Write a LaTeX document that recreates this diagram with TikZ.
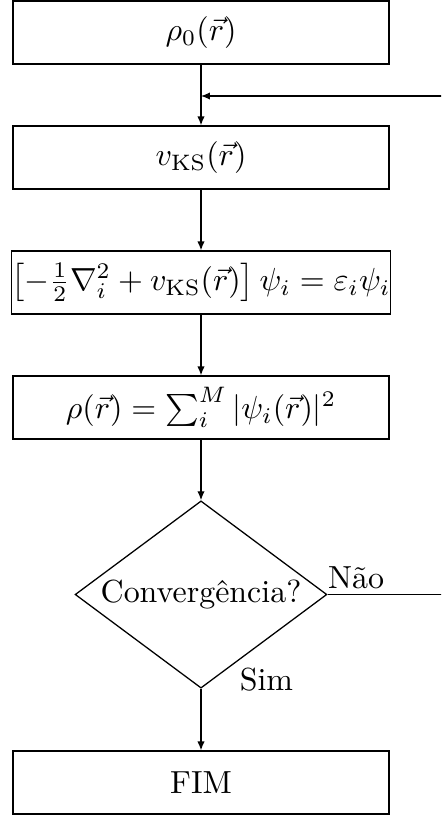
\documentclass[tikz,border=0pt]{standalone}
\usepackage{amsmath, amssymb}
\usepackage{fontspec}
\usetikzlibrary{shapes.geometric, arrows.meta}

\tikzset{
  stepbox/.style={draw, rectangle, minimum width=4.136cm, minimum height=0.693cm, inner sep=0pt},
  decision/.style={draw, diamond, aspect=1.35, inner sep=0pt, minimum width=2.77cm, minimum height=2.06cm},
  flow/.style={-{Latex[length=2.8pt,width=2.3pt]}},
}

\begin{document}
\begin{tikzpicture}[x=0.011cm, y=-0.011cm]
  \useasboundingbox (0,0) rectangle (441,816);
  \clip (0,0) rectangle (441,816);
  %--- boxes ---
  \node[stepbox] (rho0) at (201,32.5) {$\rho_0(\vec{r})$};
  \node[stepbox] (vks)  at (201,157.5) {$v_{\mathrm{KS}}(\vec{r})$};
  \node[stepbox] (ks)   at (201,282.5)
    {$\left[-\frac{1}{2}\nabla_i^2 + v_{\mathrm{KS}}(\vec{r})\right]\psi_i = \varepsilon_i\psi_i$};
  \node[stepbox] (rho)  at (201,407.5) {$\rho(\vec{r}) = \sum_i^M |\psi_i(\vec{r})|^2$};
  \node[decision] (conv) at (201,594.5) {Convergência?};
  \node[stepbox] (fim)  at (201,782.5) {FIM};
  %--- loop points ---
  \coordinate (join) at (201,96);
  \coordinate (farright) at (470,594.5);
  %--- arrows ---
  \draw (rho0) -- (join);
  \draw[flow] (join) -- (vks);
  \draw[flow] (vks) -- (ks);
  \draw[flow] (ks) -- (rho);
  \draw[flow] (rho) -- (conv);
  \draw[flow] (conv) -- (fim);
  \draw[flow] (conv.east) -- (farright) |- (join);
  % labels
  \node[anchor=base west, inner sep=0pt] (nao) at ([yshift=0.07cm]conv.east) {Não};
  \node[anchor=base west, inner sep=0pt] (sim) at ([xshift=0.42cm, yshift=-0.02cm]conv.south) {Sim};
\end{tikzpicture}
\end{document}
